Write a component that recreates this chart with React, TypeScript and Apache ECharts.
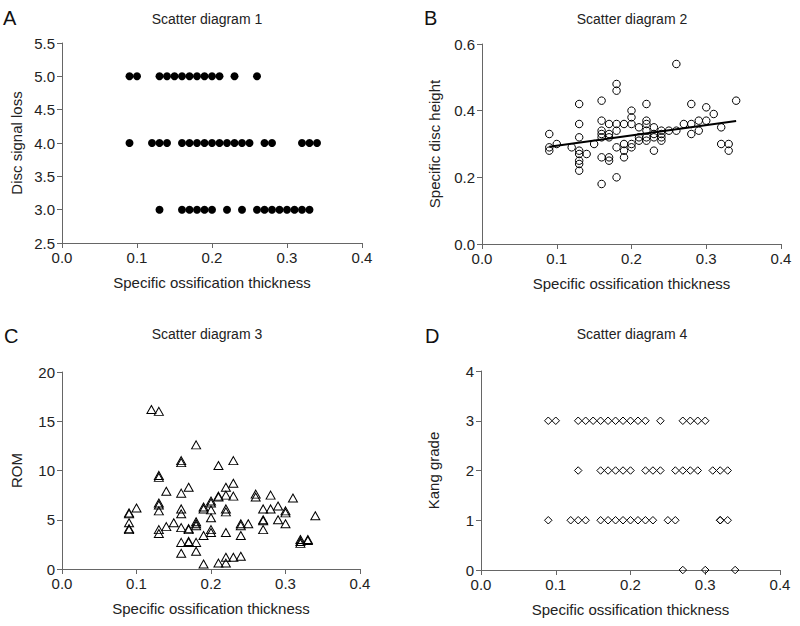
import React, { useEffect, useRef } from "react";
import * as echarts from "echarts";

// ---------- Data ----------
const panelTitles = ["Scatter diagram 1", "Scatter diagram 2", "Scatter diagram 3", "Scatter diagram 4"];
const panelLetters = ["A", "B", "C", "D"];
const xAxisName = "Specific ossification thickness";
const yAxisNames = ["Disc signal loss", "Specific disc height", "ROM", "Kang grade"];

// Panel A: disc signal loss levels -> x values
const signalLoss5 = [0.09, 0.10, 0.13, 0.14, 0.15, 0.16, 0.17, 0.18, 0.19, 0.20, 0.21, 0.23, 0.26];
const signalLoss4 = [0.09, 0.12, 0.13, 0.14, 0.16, 0.17, 0.18, 0.19, 0.20, 0.21, 0.22, 0.23, 0.24, 0.25, 0.27, 0.28, 0.32, 0.33, 0.34];
const signalLoss3 = [0.13, 0.16, 0.17, 0.18, 0.19, 0.20, 0.22, 0.24, 0.26, 0.27, 0.28, 0.29, 0.30, 0.31, 0.32, 0.33];

// Panel B: [thickness, disc height]
const discHeight: [number, number][] = [
  [0.09, 0.33], [0.09, 0.29], [0.09, 0.28], [0.10, 0.30], [0.12, 0.29],
  [0.13, 0.42], [0.13, 0.36], [0.13, 0.32], [0.13, 0.28], [0.13, 0.27], [0.13, 0.25], [0.13, 0.24], [0.13, 0.22],
  [0.14, 0.27], [0.15, 0.30],
  [0.16, 0.43], [0.16, 0.37], [0.16, 0.34], [0.16, 0.33], [0.16, 0.32], [0.16, 0.26], [0.16, 0.18],
  [0.17, 0.36], [0.17, 0.33], [0.17, 0.32], [0.17, 0.26], [0.17, 0.25],
  [0.18, 0.48], [0.18, 0.46], [0.18, 0.36], [0.18, 0.34], [0.18, 0.29], [0.18, 0.20],
  [0.19, 0.36], [0.19, 0.30], [0.19, 0.28], [0.19, 0.26],
  [0.20, 0.40], [0.20, 0.38], [0.20, 0.36], [0.20, 0.30], [0.20, 0.29],
  [0.21, 0.35], [0.21, 0.32], [0.21, 0.31],
  [0.22, 0.42], [0.22, 0.37], [0.22, 0.36], [0.22, 0.34], [0.22, 0.32], [0.22, 0.31],
  [0.23, 0.35], [0.23, 0.33], [0.23, 0.32], [0.23, 0.28],
  [0.24, 0.34], [0.24, 0.33], [0.24, 0.32], [0.24, 0.31],
  [0.25, 0.34],
  [0.26, 0.54], [0.26, 0.34],
  [0.27, 0.36],
  [0.28, 0.42], [0.28, 0.36], [0.28, 0.33],
  [0.29, 0.37], [0.29, 0.34],
  [0.30, 0.41], [0.30, 0.37],
  [0.31, 0.39],
  [0.32, 0.35], [0.32, 0.30],
  [0.33, 0.30], [0.33, 0.28],
  [0.34, 0.43],
];
const discHeightTrend: [number, number][] = [[0.09, 0.292], [0.34, 0.369]];

// Panel C: [thickness, ROM]
const romPoints: [number, number][] = [
  [0.12, 16.2], [0.13, 16.0], [0.18, 12.6], [0.16, 11.0], [0.16, 10.8], [0.21, 10.5], [0.23, 11.0],
  [0.13, 9.5], [0.13, 9.3], [0.14, 7.9], [0.17, 8.3], [0.16, 7.7], [0.22, 8.3], [0.23, 8.7],
  [0.21, 7.4], [0.21, 7.3], [0.22, 7.5], [0.23, 7.4], [0.26, 7.6], [0.26, 7.3], [0.28, 7.5], [0.31, 7.2],
  [0.20, 6.9], [0.20, 6.7], [0.19, 6.3], [0.19, 6.1], [0.20, 6.0], [0.22, 6.1], [0.22, 5.8],
  [0.13, 6.7], [0.13, 6.5], [0.13, 5.9], [0.10, 6.2], [0.09, 5.7], [0.09, 5.6], [0.16, 6.1], [0.16, 5.6],
  [0.27, 6.1], [0.28, 6.1], [0.29, 6.4], [0.30, 5.9], [0.30, 5.7], [0.34, 5.4], [0.29, 5.0], [0.27, 5.0], [0.27, 4.9],
  [0.30, 4.6], [0.25, 4.6], [0.24, 4.6], [0.24, 4.4], [0.20, 5.2], [0.15, 4.7], [0.14, 4.3], [0.09, 4.7],
  [0.09, 4.1], [0.09, 4.0], [0.13, 4.0], [0.13, 3.6], [0.16, 4.2], [0.17, 4.1], [0.17, 4.0],
  [0.18, 4.8], [0.18, 4.6], [0.18, 4.4], [0.20, 4.0], [0.20, 3.7], [0.22, 3.7], [0.24, 3.4], [0.19, 3.4], [0.27, 4.0],
  [0.16, 2.7], [0.17, 2.8], [0.17, 2.7], [0.18, 2.7], [0.16, 1.6], [0.18, 1.8],
  [0.19, 0.5], [0.21, 0.6], [0.22, 1.2], [0.22, 0.6], [0.23, 1.2], [0.24, 1.3],
  [0.32, 3.0], [0.32, 2.8], [0.32, 2.6], [0.33, 3.0], [0.33, 2.9],
];

// Panel D: Kang grade levels -> x values
const kang3 = [0.09, 0.10, 0.13, 0.14, 0.15, 0.16, 0.17, 0.18, 0.19, 0.20, 0.21, 0.22, 0.24, 0.27, 0.28, 0.29, 0.30];
const kang2 = [0.13, 0.16, 0.17, 0.18, 0.19, 0.20, 0.22, 0.23, 0.24, 0.26, 0.27, 0.28, 0.29, 0.31, 0.32, 0.33];
const kang1 = [0.09, 0.12, 0.13, 0.14, 0.16, 0.17, 0.18, 0.19, 0.20, 0.21, 0.22, 0.23, 0.25, 0.26, 0.32, 0.32, 0.33];
const kang0 = [0.27, 0.30, 0.34];

// y-axis ranges
const yRanges = [
  { min: 2.5, max: 5.5, interval: 0.5, digits: 1 },
  { min: 0, max: 0.6, interval: 0.2, digits: 1 },
  { min: 0, max: 20, interval: 5, digits: 0 },
  { min: 0, max: 4, interval: 1, digits: 0 },
];

const FONT = "'Liberation Sans', Arial, Helvetica, sans-serif";
const TEXT = "#222";
const AXIS = "#666";

export default function App() {
  const ref = useRef<HTMLDivElement>(null);
  useEffect(() => {
    if (!ref.current) return;
    const chart = echarts.init(ref.current, null, { renderer: "svg" });

    const grids = [
      { left: 62, top: 43, width: 300, height: 200 },
      { left: 482, top: 44, width: 299, height: 200 },
      { left: 62, top: 372, width: 298, height: 197 },
      { left: 481, top: 371, width: 299, height: 199 },
    ];
    const yNameGaps = [38, 40, 38, 40];

    const xAxes = grids.map((_, i) => ({
      type: "value",
      gridIndex: i,
      min: 0,
      max: 0.4,
      interval: 0.1,
      name: xAxisName,
      nameLocation: "middle",
      nameGap: 32,
      nameTextStyle: { fontFamily: FONT, fontSize: 15, color: TEXT },
      axisLine: { show: true, onZero: false, lineStyle: { color: AXIS, width: 1 } },
      axisTick: { show: true, length: 5, lineStyle: { color: AXIS } },
      axisLabel: { fontFamily: FONT, fontSize: 15, color: TEXT, margin: 7, formatter: (v: number) => v.toFixed(1) },
      splitLine: { show: false },
    }));

    const yAxes = grids.map((_, i) => ({
      type: "value",
      gridIndex: i,
      min: yRanges[i].min,
      max: yRanges[i].max,
      interval: yRanges[i].interval,
      name: yAxisNames[i],
      nameLocation: "middle",
      nameGap: yNameGaps[i],
      nameTextStyle: { fontFamily: FONT, fontSize: 15, color: TEXT },
      axisLine: { show: true, onZero: false, lineStyle: { color: AXIS, width: 1 } },
      axisTick: { show: true, length: 5, lineStyle: { color: AXIS } },
      axisLabel: {
        fontFamily: FONT, fontSize: 15, color: TEXT, margin: 7,
        formatter: (v: number) => v.toFixed(yRanges[i].digits),
      },
      splitLine: { show: false },
    }));

    const openStyle = { color: "rgba(0,0,0,0)", borderColor: "#000", borderWidth: 1, opacity: 1 };

    const series: any[] = [
      {
        type: "scatter", xAxisIndex: 0, yAxisIndex: 0, symbol: "circle", symbolSize: 8,
        itemStyle: { color: "#000", opacity: 1 },
        data: [
          ...signalLoss5.map((x) => [x, 5]),
          ...signalLoss4.map((x) => [x, 4]),
          ...signalLoss3.map((x) => [x, 3]),
        ],
      },
      {
        type: "scatter", xAxisIndex: 1, yAxisIndex: 1, symbol: "circle", symbolSize: 7.5,
        itemStyle: openStyle, data: discHeight,
      },
      {
        type: "line", xAxisIndex: 1, yAxisIndex: 1, showSymbol: false, symbol: "none",
        lineStyle: { color: "#000", width: 2 }, data: discHeightTrend, z: 3,
      },
      {
        type: "scatter", xAxisIndex: 2, yAxisIndex: 2, symbol: "triangle", symbolSize: [9, 8],
        itemStyle: openStyle, data: romPoints,
      },
      {
        type: "scatter", xAxisIndex: 3, yAxisIndex: 3, symbol: "diamond", symbolSize: 7.5,
        itemStyle: openStyle,
        data: [
          ...kang3.map((x) => [x, 3]),
          ...kang2.map((x) => [x, 2]),
          ...kang1.map((x) => [x, 1]),
          ...kang0.map((x) => [x, 0]),
        ],
      },
    ];

    const titlePos = [
      { x: 207, y: 19 }, { x: 632, y: 19 }, { x: 207, y: 334 }, { x: 632, y: 334 },
    ];
    const letterPos = [
      { x: 3, y: 18 }, { x: 424, y: 18 }, { x: 4, y: 336 }, { x: 425, y: 336 },
    ];
    const graphic: any[] = [];
    panelTitles.forEach((t, i) => {
      graphic.push({
        type: "text", x: titlePos[i].x, y: titlePos[i].y,
        style: { text: t, font: `14px ${FONT}`, fill: TEXT, align: "center", verticalAlign: "middle" },
      });
      graphic.push({
        type: "text", x: letterPos[i].x, y: letterPos[i].y,
        style: { text: panelLetters[i], font: `20px ${FONT}`, fill: "#111", align: "left", verticalAlign: "middle" },
      });
    });

    chart.setOption({
      animation: false,
      backgroundColor: "#fff",
      grid: grids.map((g) => ({ ...g, containLabel: false })),
      xAxis: xAxes,
      yAxis: yAxes,
      series,
      graphic,
    });
    return () => chart.dispose();
  }, []);

  return (
    <div
      ref={ref}
      style={{ position: "fixed", left: 0, top: 0, width: 800, height: 626, background: "#fff" }}
    />
  );
}
